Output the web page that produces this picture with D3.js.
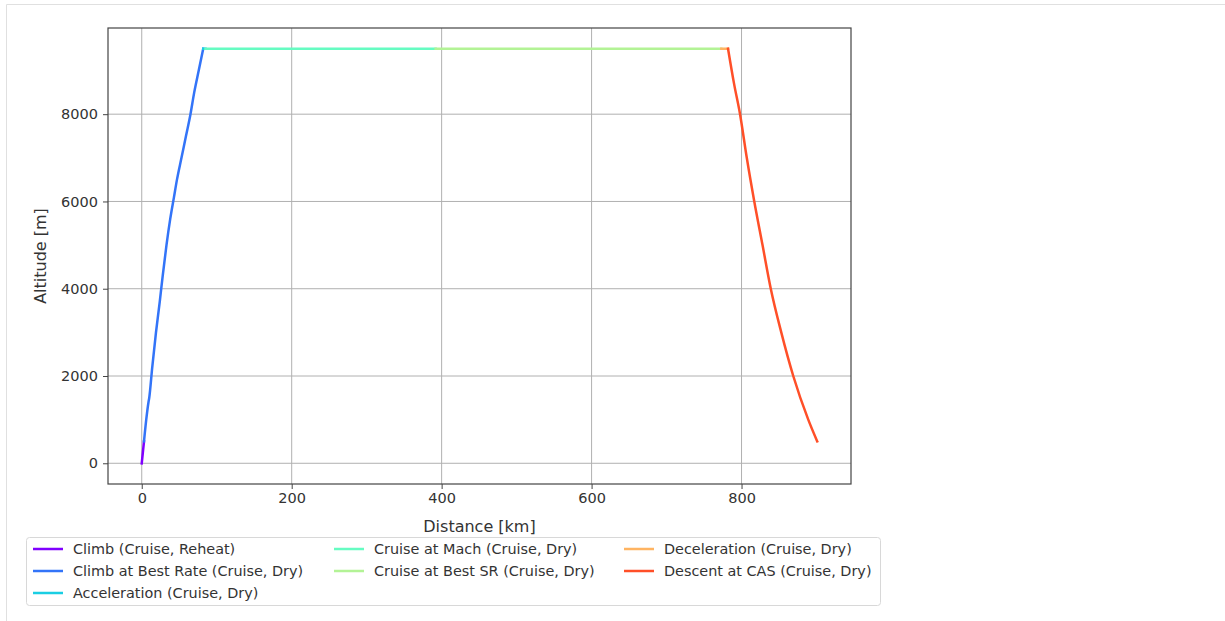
<!DOCTYPE html>
<html>
<head>
<meta charset="utf-8">
<script src="https://cdn.jsdelivr.net/npm/d3@7"></script>
<style>
  body { margin: 0; background: #fff; }
  svg { font-family: "DejaVu Sans", sans-serif; }
</style>
</head>
<body>
<script>
// phase names, in legend order
var phaseNames = [
  "Climb (Cruise, Reheat)",
  "Climb at Best Rate (Cruise, Dry)",
  "Acceleration (Cruise, Dry)",
  "Cruise at Mach (Cruise, Dry)",
  "Cruise at Best SR (Cruise, Dry)",
  "Deceleration (Cruise, Dry)",
  "Descent at CAS (Cruise, Dry)"
];

// [distance km, altitude m] per phase
var climbReheat = [[0, 0], [1.5, 250], [3, 500]];
var climbBestRate = [[3, 500], [6, 1000], [9, 1400], [10, 1500], [14, 2200], [19, 3000],
  [24, 3700], [28, 4300], [33, 5000], [38, 5600], [43, 6100], [47, 6500], [53, 7000],
  [59, 7500], [65, 8000], [70, 8500], [76, 9000], [82, 9500]];
var acceleration = [[82, 9500], [85, 9500]];
var cruiseMach = [[85, 9500], [392, 9500]];
var cruiseBestSR = [[392, 9500], [773, 9500]];
var deceleration = [[773, 9500], [782, 9500]];
var descentCAS = [[782, 9500], [790, 8700], [798, 8000], [807, 7000], [817, 6000],
  [828, 5000], [839, 4000], [853, 3000], [869, 2000], [889, 1000], [901, 500]];

var phaseData = [climbReheat, climbBestRate, acceleration, cruiseMach, cruiseBestSR, deceleration, descentCAS];
var phaseColors = ["#8000ff", "#3374f8", "#1acee3", "#66fcc2", "#b3f396", "#ffb462", "#ff4f28"];

var xTicks = [0, 200, 400, 600, 800];
var yTicks = [0, 2000, 4000, 6000, 8000];

var W = 1225, H = 621;
var plot = {left: 108, right: 851, top: 28, bottom: 484};

var svg = d3.select("body").append("svg")
  .attr("width", W)
  .attr("height", H);

// notebook output frame
svg.append("path")
  .attr("d", "M6.5," + H + "V4.5H" + W)
  .attr("fill", "none")
  .attr("stroke", "#e0e0e0")
  .attr("stroke-width", 1);

var x = d3.scaleLinear().domain([-45, 946]).range([plot.left, plot.right]);
var y = d3.scaleLinear().domain([-475, 9975]).range([plot.bottom, plot.top]);

// grid
svg.append("g").selectAll("line").data(xTicks).enter().append("line")
  .attr("x1", function(d) { return x(d); })
  .attr("x2", function(d) { return x(d); })
  .attr("y1", plot.top).attr("y2", plot.bottom)
  .attr("stroke", "#b0b0b0").attr("stroke-width", 1);
svg.append("g").selectAll("line").data(yTicks).enter().append("line")
  .attr("y1", function(d) { return y(d); })
  .attr("y2", function(d) { return y(d); })
  .attr("x1", plot.left).attr("x2", plot.right)
  .attr("stroke", "#b0b0b0").attr("stroke-width", 1);

// lines
var line = d3.line()
  .curve(d3.curveMonotoneX)
  .x(function(d) { return x(d[0]); })
  .y(function(d) { return y(d[1]); });

svg.append("g").selectAll("path").data(phaseData).enter().append("path")
  .attr("d", line)
  .attr("fill", "none")
  .attr("stroke", function(d, i) { return phaseColors[i]; })
  .attr("stroke-width", 2.5)
  .attr("stroke-linejoin", "round")
  .attr("stroke-linecap", "square");

// axes
var xAxis = svg.append("g")
  .attr("transform", "translate(0," + plot.bottom + ")")
  .call(d3.axisBottom(x).tickValues(xTicks).tickSize(5).tickPadding(4).tickFormat(d3.format("d")));
var yAxis = svg.append("g")
  .attr("transform", "translate(" + plot.left + ",0)")
  .call(d3.axisLeft(y).tickValues(yTicks).tickSize(5).tickPadding(5).tickFormat(d3.format("d")));

[xAxis, yAxis].forEach(function(a) {
  a.select(".domain").remove();
  a.selectAll(".tick line").attr("stroke", "#444").attr("stroke-width", 1);
  a.selectAll(".tick text").attr("fill", "#333").style("font-size", "14.5px")
    .style("font-family", "DejaVu Sans");
});

// frame
svg.append("rect")
  .attr("x", plot.left).attr("y", plot.top)
  .attr("width", plot.right - plot.left).attr("height", plot.bottom - plot.top)
  .attr("fill", "none").attr("stroke", "#444").attr("stroke-width", 1.2);

// axis labels
svg.append("text")
  .attr("x", (plot.left + plot.right) / 2).attr("y", 532)
  .attr("text-anchor", "middle")
  .attr("fill", "#333").style("font-size", "16px")
  .text("Distance [km]");
svg.append("text")
  .attr("transform", "translate(46," + ((plot.top + plot.bottom) / 2) + ") rotate(-90)")
  .attr("text-anchor", "middle")
  .attr("fill", "#333").style("font-size", "16px")
  .text("Altitude [m]");

// legend
var legend = svg.append("g");
legend.append("rect")
  .attr("x", 26.5).attr("y", 537.5).attr("width", 854).attr("height", 68).attr("rx", 3)
  .attr("fill", "#fff").attr("stroke", "#d8d8d8").attr("stroke-width", 1);

var colX = [33, 334, 624];
var rowY = [549, 571, 593];

var item = legend.selectAll("g.item").data(phaseNames).enter().append("g")
  .attr("class", "item")
  .attr("transform", function(d, i) {
    var col = 0, row = i;
    if (i >= 5) { col = 2; row = i - 5; }
    else if (i >= 3) { col = 1; row = i - 3; }
    return "translate(" + colX[col] + "," + rowY[row] + ")";
  });
item.append("line")
  .attr("x1", 0).attr("x2", 30).attr("y1", 0).attr("y2", 0)
  .attr("stroke", function(d, i) { return phaseColors[i]; })
  .attr("stroke-width", 2.5);
item.append("text")
  .attr("x", 40).attr("y", 0).attr("dy", "0.35em")
  .attr("fill", "#333").style("font-size", "14.4px")
  .text(function(d) { return d; });
</script>
</body>
</html>
